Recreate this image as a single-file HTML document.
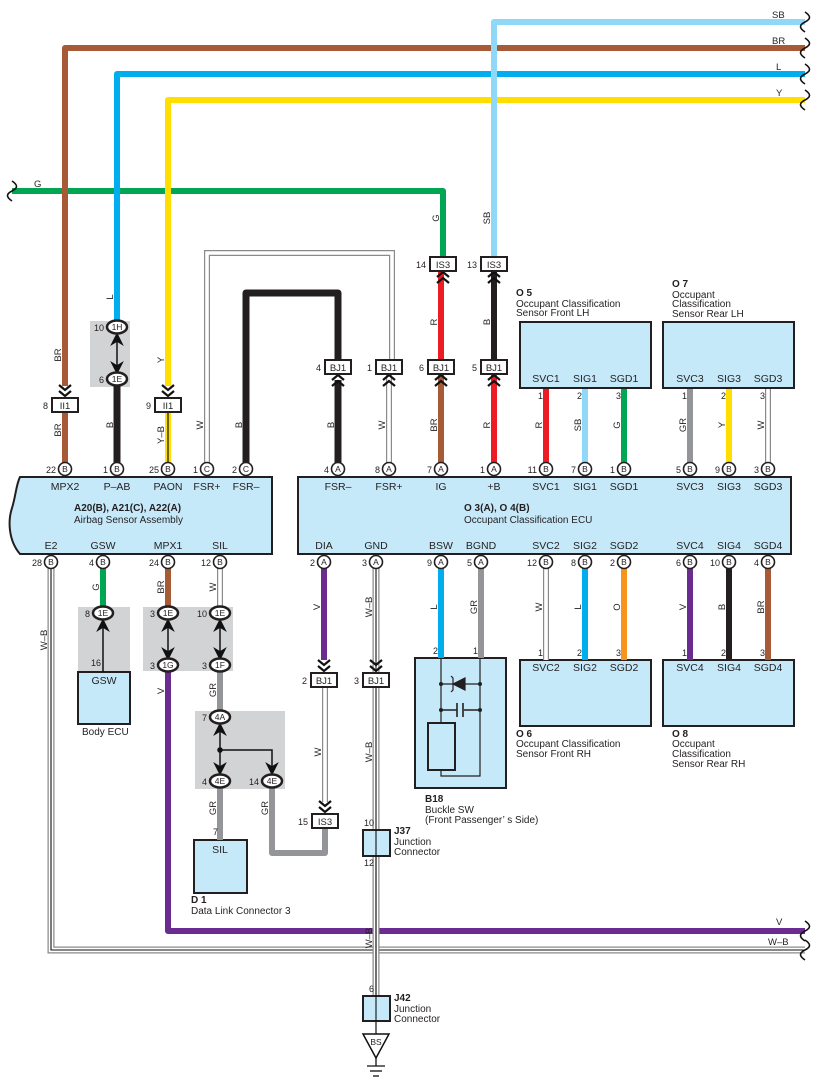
<!DOCTYPE html>
<html><head><meta charset="utf-8"><style>
html,body{margin:0;padding:0;background:#fff}
svg{display:block}
text{font-family:"Liberation Sans",sans-serif;fill:#231f20}
.s{font-size:9.5px}
.p{font-size:8.5px;text-anchor:middle}
.n{font-size:9px;text-anchor:end}
.t{font-size:10.5px;text-anchor:middle}
.b{font-size:10px;font-weight:bold}
</style></head><body>
<svg width="817" height="1088" viewBox="0 0 817 1088" xmlns="http://www.w3.org/2000/svg">
<defs>
<g id="cd"><path d="M-6,-13 L0,-8 L6,-13 M-6,-7 L0,-2 L6,-7" fill="none" stroke="#111" stroke-width="2.2"/></g>
<g id="cu"><path d="M-6,13 L0,8 L6,13 M-6,7 L0,2 L6,7" fill="none" stroke="#111" stroke-width="2.2"/></g>
<g id="wv"><path d="M0,-10 C6,-6 6,-3 0,0 C-6,3 -6,6 0,10" fill="none" stroke="#111" stroke-width="1.6"/></g>
</defs>

<g fill="#d1d3d4">
<rect x="90" y="321" width="40" height="66"/>
<rect x="78" y="607" width="52" height="64"/>
<rect x="143" y="607" width="90" height="64"/>
<rect x="195" y="711" width="90" height="78"/>
</g>

<g fill="none" stroke-linejoin="round" stroke-width="6">
<path d="M12,191 H443 V257" stroke="#00a651"/>
<path d="M805,48 H65 V386" stroke="#a65a36"/>
<path d="M805,74 H117 V321" stroke="#00aeef"/>
<path d="M805,100 H168 V386" stroke="#ffde00"/>
<path d="M805,22 H494 V257" stroke="#8fd8f8"/>
</g>
<use href="#wv" x="805" y="22"/><use href="#wv" x="805" y="48"/><use href="#wv" x="805" y="74"/><use href="#wv" x="805" y="100"/>
<use href="#wv" x="12" y="191"/>
<g class="s"><text x="772" y="18">SB</text><text x="772" y="44">BR</text><text x="776" y="70">L</text><text x="776" y="96">Y</text><text x="34" y="187">G</text></g>

<g fill="none" stroke-width="6">
<line x1="65" y1="413" x2="65" y2="463" stroke="#a65a36"/>
<line x1="117" y1="385" x2="117" y2="463" stroke="#231f20" stroke-width="7"/>
<line x1="168" y1="413" x2="168" y2="463" stroke="#ffde00"/>
<line x1="168" y1="413" x2="168" y2="463" stroke="#111" stroke-width="1.2"/>
<path d="M246,463 V293 H338 V373" stroke="#231f20" stroke-width="7" stroke-linejoin="round"/>
<path d="M207,463 V253 H392 V373" stroke="#8a8a8a" stroke-width="6"/>
<path d="M207,463 V253 H392 V373" stroke="#fff" stroke-width="3.6"/>
<line x1="338" y1="380" x2="338" y2="463" stroke="#231f20" stroke-width="7"/>
<line x1="389" y1="373" x2="389" y2="463" stroke="#8a8a8a"/><line x1="389" y1="373" x2="389" y2="463" stroke="#fff" stroke-width="3.6"/>
<line x1="441" y1="270" x2="441" y2="360" stroke="#ed1c24"/>
<line x1="441" y1="373" x2="441" y2="463" stroke="#a65a36"/>
<line x1="494" y1="270" x2="494" y2="360" stroke="#231f20"/>
<line x1="494" y1="373" x2="494" y2="463" stroke="#ed1c24"/>
<line x1="546" y1="388" x2="546" y2="463" stroke="#ed1c24"/>
<line x1="585" y1="388" x2="585" y2="463" stroke="#8fd8f8"/>
<line x1="624" y1="388" x2="624" y2="463" stroke="#00a651"/>
<line x1="690" y1="388" x2="690" y2="463" stroke="#939598"/>
<line x1="729" y1="388" x2="729" y2="463" stroke="#ffde00"/>
<line x1="768" y1="388" x2="768" y2="463" stroke="#8a8a8a"/><line x1="768" y1="388" x2="768" y2="463" stroke="#fff" stroke-width="3.6"/>
</g>
<g stroke="#111" stroke-width="1.5" fill="#111">
<line x1="117" y1="336" x2="117" y2="371"/>
<path d="M112,344 L117,334 L122,344 L117,341Z"/><path d="M112,363 L117,373 L122,363 L117,366Z"/>
</g>

<g fill="#c6e9fa" stroke="#231f20" stroke-width="2">
<rect x="520" y="322" width="131" height="66"/>
<rect x="663" y="322" width="131" height="66"/>
<path d="M20,477 H272 V554 H20 C8,540 8,520 12,508 C16,495 16,485 20,477Z"/>
<rect x="298" y="477" width="493" height="77"/>
<rect x="415" y="658" width="91" height="130"/>
<rect x="520" y="660" width="131" height="66"/>
<rect x="663" y="660" width="131" height="66"/>
<rect x="78" y="672" width="52" height="52"/>
<rect x="194" y="840" width="53" height="53"/>
</g>
<g class="t">
<text x="546" y="382">SVC1</text><text x="585" y="382">SIG1</text><text x="624" y="382">SGD1</text>
<text x="690" y="382">SVC3</text><text x="729" y="382">SIG3</text><text x="768" y="382">SGD3</text>
<text x="65" y="490">MPX2</text><text x="117" y="490">P–AB</text><text x="168" y="490">PAON</text><text x="207" y="490">FSR+</text><text x="246" y="490">FSR–</text>
<text x="338" y="490">FSR–</text><text x="389" y="490">FSR+</text><text x="441" y="490">IG</text><text x="494" y="490">+B</text>
<text x="546" y="490">SVC1</text><text x="585" y="490">SIG1</text><text x="624" y="490">SGD1</text>
<text x="690" y="490">SVC3</text><text x="729" y="490">SIG3</text><text x="768" y="490">SGD3</text>
<text x="51" y="549">E2</text><text x="103" y="549">GSW</text><text x="168" y="549">MPX1</text><text x="220" y="549">SIL</text>
<text x="324" y="549">DIA</text><text x="376" y="549">GND</text><text x="441" y="549">BSW</text><text x="481" y="549">BGND</text>
<text x="546" y="549">SVC2</text><text x="585" y="549">SIG2</text><text x="624" y="549">SGD2</text>
<text x="690" y="549">SVC4</text><text x="729" y="549">SIG4</text><text x="768" y="549">SGD4</text>
<text x="546" y="671">SVC2</text><text x="585" y="671">SIG2</text><text x="624" y="671">SGD2</text>
<text x="690" y="671">SVC4</text><text x="729" y="671">SIG4</text><text x="768" y="671">SGD4</text>
<text x="104" y="684">GSW</text><text x="220" y="853">SIL</text>
</g>
<text class="b" x="74" y="511">A20(B), A21(C), A22(A)</text>
<text x="74" y="523" style="font-size:10px">Airbag Sensor Assembly</text>
<text class="b" x="464" y="511">O 3(A), O 4(B)</text>
<text x="464" y="523" style="font-size:10px">Occupant Classification ECU</text>
<g style="font-size:10px">
<text class="b" x="516" y="296">O 5</text><text x="516" y="307">Occupant Classification</text><text x="516" y="316">Sensor Front LH</text>
<text class="b" x="672" y="287">O 7</text><text x="672" y="298">Occupant</text><text x="672" y="307">Classification</text><text x="672" y="317">Sensor Rear LH</text>
<text class="b" x="516" y="737">O 6</text><text x="516" y="747">Occupant Classification</text><text x="516" y="757">Sensor Front RH</text>
<text class="b" x="672" y="737">O 8</text><text x="672" y="747">Occupant</text><text x="672" y="757">Classification</text><text x="672" y="767">Sensor Rear RH</text>
<text class="b" x="425" y="802">B18</text><text x="425" y="813">Buckle SW</text><text x="425" y="823">(Front Passenger’ s Side)</text>
<text x="82" y="735">Body ECU</text>
<text class="b" x="191" y="903">D 1</text><text x="191" y="914">Data Link Connector 3</text>
<text class="b" x="394" y="834">J37</text><text x="394" y="845">Junction</text><text x="394" y="855">Connector</text>
<text class="b" x="394" y="1001">J42</text><text x="394" y="1012">Junction</text><text x="394" y="1022">Connector</text>
</g>

<g fill="none" stroke-width="6">
<path d="M51,568 V950 H805" stroke="#8a8a8a" stroke-width="7"/>
<path d="M51,568 V950 H805" stroke="#fff" stroke-width="4.5"/>
<path d="M51,568 V950 H805" stroke="#111" stroke-width="1.1"/>
<line x1="103" y1="568" x2="103" y2="606" stroke="#00a651"/>
<line x1="168" y1="568" x2="168" y2="606" stroke="#a65a36"/>
<path d="M168,672 V931 H805" stroke="#6b2c91" stroke-linejoin="round"/>
<line x1="220" y1="568" x2="220" y2="606" stroke="#8a8a8a"/><line x1="220" y1="568" x2="220" y2="606" stroke="#fff" stroke-width="3.6"/>
<line x1="220" y1="672" x2="220" y2="711" stroke="#939598"/>
<line x1="220" y1="788" x2="220" y2="840" stroke="#939598"/>
<path d="M272,788 V853 H325 V827" stroke="#939598" stroke-linejoin="round"/>
<line x1="324" y1="568" x2="324" y2="660" stroke="#6b2c91"/>
<line x1="325" y1="686" x2="325" y2="802" stroke="#8a8a8a"/><line x1="325" y1="686" x2="325" y2="802" stroke="#fff" stroke-width="3.6"/>
<line x1="376" y1="568" x2="376" y2="996" stroke="#8a8a8a" stroke-width="7"/>
<line x1="376" y1="568" x2="376" y2="996" stroke="#fff" stroke-width="4.5"/>
<line x1="376" y1="568" x2="376" y2="1034" stroke="#111" stroke-width="1.1"/>
<line x1="441" y1="568" x2="441" y2="658" stroke="#00aeef"/>
<line x1="481" y1="568" x2="481" y2="658" stroke="#939598"/>
<line x1="546" y1="568" x2="546" y2="660" stroke="#8a8a8a"/><line x1="546" y1="568" x2="546" y2="660" stroke="#fff" stroke-width="3.6"/>
<line x1="585" y1="568" x2="585" y2="660" stroke="#00aeef"/>
<line x1="624" y1="568" x2="624" y2="660" stroke="#f7941d"/>
<line x1="690" y1="568" x2="690" y2="660" stroke="#6b2c91"/>
<line x1="729" y1="568" x2="729" y2="660" stroke="#231f20"/>
<line x1="768" y1="568" x2="768" y2="660" stroke="#a65a36"/>
</g>
<use href="#wv" x="805" y="931"/><use href="#wv" x="805" y="950"/>
<g class="s"><text x="776" y="925">V</text><text x="768" y="945">W–B</text></g>

<g stroke="#111" stroke-width="1.5" fill="#111">
<line x1="103" y1="622" x2="103" y2="672"/><path d="M98,630 L103,620 L108,630 L103,627Z"/>
<line x1="168" y1="622" x2="168" y2="657"/><path d="M163,630 L168,620 L173,630 L168,627Z"/><path d="M163,649 L168,659 L173,649 L168,652Z"/>
<line x1="220" y1="622" x2="220" y2="657"/><path d="M215,630 L220,620 L225,630 L220,627Z"/><path d="M215,649 L220,659 L225,649 L220,652Z"/>
<line x1="220" y1="726" x2="220" y2="772"/><path d="M215,734 L220,724 L225,734 L220,731Z"/><path d="M215,764 L220,774 L225,764 L220,767Z"/>
<polyline points="220,750 272,750 272,770" fill="none"/><path d="M267,764 L272,774 L277,764 L272,767Z"/>
<circle cx="220" cy="750" r="2"/>
</g>

<g stroke="#231f20" stroke-width="1.2" fill="none">
<path d="M441,658 V723 M455,776 H480 V658 M441,770 V776 H455"/>
<rect x="428" y="723" width="27" height="47" stroke-width="2"/>
<line x1="441" y1="684" x2="480" y2="684"/>
<path d="M441,710 H457 M464,710 H480 M457,703 V717 M463,703 V717" stroke-width="1.6"/>
<path d="M453,684 L465,678 L465,690Z" fill="#231f20"/>
<path d="M451,676 L453,678 V690 L451,692"/>
</g>
<g fill="#231f20"><circle cx="441" cy="684" r="2"/><circle cx="480" cy="684" r="2"/><circle cx="441" cy="710" r="2"/><circle cx="480" cy="710" r="2"/></g>

<g fill="#c6e9fa" stroke="#231f20" stroke-width="2">
<rect x="363" y="830" width="27" height="26"/>
<rect x="363" y="996" width="27" height="25"/>
</g>
<line x1="376" y1="830" x2="376" y2="1034" stroke="#111" stroke-width="1.1"/>
<polygon points="363,1034 389,1034 376,1058" fill="#fff" stroke="#111" stroke-width="1.5"/>
<text x="376" y="1045" class="p">BS</text>
<g stroke="#111" stroke-width="1.3"><line x1="376" y1="1058" x2="376" y2="1066"/><line x1="367" y1="1066" x2="385" y2="1066"/><line x1="370" y1="1071" x2="382" y2="1071"/><line x1="373" y1="1076" x2="379" y2="1076"/></g>

<use href="#cd" x="65" y="398"/><use href="#cd" x="168" y="398"/>
<use href="#cu" x="338" y="373"/><use href="#cu" x="389" y="373"/><use href="#cu" x="441" y="373"/><use href="#cu" x="494" y="373"/>
<use href="#cu" x="443" y="270"/><use href="#cu" x="494" y="270"/>
<use href="#cd" x="324" y="673"/><use href="#cd" x="376" y="673"/><use href="#cd" x="325" y="814"/>

<g fill="#fff" stroke="#231f20" stroke-width="2">
<rect x="52" y="398" width="26" height="14"/><rect x="155" y="398" width="26" height="14"/>
<rect x="325" y="360" width="26" height="14"/><rect x="376" y="360" width="26" height="14"/><rect x="428" y="360" width="26" height="14"/><rect x="481" y="360" width="26" height="14"/>
<rect x="430" y="257" width="26" height="14"/><rect x="481" y="257" width="26" height="14"/>
<rect x="311" y="673" width="26" height="14"/><rect x="363" y="673" width="26" height="14"/><rect x="312" y="814" width="26" height="14"/>
</g>
<g class="p" style="font-size:9.5px">
<text x="65" y="409">II1</text><text x="168" y="409">II1</text>
<text x="338" y="371">BJ1</text><text x="389" y="371">BJ1</text><text x="441" y="371">BJ1</text><text x="494" y="371">BJ1</text>
<text x="443" y="268">IS3</text><text x="494" y="268">IS3</text>
<text x="324" y="684">BJ1</text><text x="376" y="684">BJ1</text><text x="325" y="825">IS3</text>
</g>
<g class="n">
<text x="48" y="409">8</text><text x="151" y="409">9</text>
<text x="321" y="371">4</text><text x="372" y="371">1</text><text x="424" y="371">6</text><text x="477" y="371">5</text>
<text x="426" y="268">14</text><text x="477" y="268">13</text>
<text x="307" y="684">2</text><text x="359" y="684">3</text><text x="308" y="825">15</text>
<text x="374" y="826">10</text><text x="374" y="866">12</text><text x="374" y="992">6</text>
</g>

<g fill="#fff" stroke="#231f20" stroke-width="2.5">
<ellipse cx="117" cy="327" rx="10" ry="6.5"/><ellipse cx="117" cy="379" rx="10" ry="6.5"/>
<ellipse cx="103" cy="613" rx="10" ry="6.5"/>
<ellipse cx="168" cy="613" rx="10" ry="6.5"/><ellipse cx="168" cy="665" rx="10" ry="6.5"/>
<ellipse cx="220" cy="613" rx="10" ry="6.5"/><ellipse cx="220" cy="665" rx="10" ry="6.5"/>
<ellipse cx="220" cy="717" rx="10" ry="6.5"/><ellipse cx="220" cy="781" rx="10" ry="6.5"/><ellipse cx="272" cy="781" rx="10" ry="6.5"/>
</g>
<g class="p">
<text x="117" y="330">1H</text><text x="117" y="382">1E</text><text x="103" y="616">1E</text>
<text x="168" y="616">1E</text><text x="168" y="668">1G</text><text x="220" y="616">1E</text><text x="220" y="668">1F</text>
<text x="220" y="720">4A</text><text x="220" y="784">4E</text><text x="272" y="784">4E</text>
</g>
<g class="n">
<text x="104" y="331">10</text><text x="104" y="383">6</text><text x="90" y="617">8</text><text x="101" y="666">16</text>
<text x="155" y="617">3</text><text x="155" y="669">3</text><text x="207" y="617">10</text><text x="207" y="669">3</text>
<text x="207" y="721">7</text><text x="207" y="785">4</text><text x="259" y="785">14</text><text x="218" y="835">7</text>
<text x="543" y="399">1</text><text x="582" y="399">2</text><text x="621" y="399">3</text>
<text x="687" y="399">1</text><text x="726" y="399">2</text><text x="765" y="399">3</text>
<text x="438" y="654">2</text><text x="478" y="654">1</text>
<text x="543" y="656">1</text><text x="582" y="656">2</text><text x="621" y="656">3</text>
<text x="687" y="656">1</text><text x="726" y="656">2</text><text x="765" y="656">3</text>
</g>

<g fill="#fff" stroke="#231f20" stroke-width="1.6">
<circle cx="65" cy="469" r="6.5"/><circle cx="117" cy="469" r="6.5"/><circle cx="168" cy="469" r="6.5"/><circle cx="207" cy="469" r="6.5"/><circle cx="246" cy="469" r="6.5"/>
<circle cx="338" cy="469" r="6.5"/><circle cx="389" cy="469" r="6.5"/><circle cx="441" cy="469" r="6.5"/><circle cx="494" cy="469" r="6.5"/>
<circle cx="546" cy="469" r="6.5"/><circle cx="585" cy="469" r="6.5"/><circle cx="624" cy="469" r="6.5"/><circle cx="690" cy="469" r="6.5"/><circle cx="729" cy="469" r="6.5"/><circle cx="768" cy="469" r="6.5"/>
<circle cx="51" cy="562" r="6.5"/><circle cx="103" cy="562" r="6.5"/><circle cx="168" cy="562" r="6.5"/><circle cx="220" cy="562" r="6.5"/>
<circle cx="324" cy="562" r="6.5"/><circle cx="376" cy="562" r="6.5"/><circle cx="441" cy="562" r="6.5"/><circle cx="481" cy="562" r="6.5"/>
<circle cx="546" cy="562" r="6.5"/><circle cx="585" cy="562" r="6.5"/><circle cx="624" cy="562" r="6.5"/><circle cx="690" cy="562" r="6.5"/><circle cx="729" cy="562" r="6.5"/><circle cx="768" cy="562" r="6.5"/>
</g>
<g class="p">
<text x="65" y="472">B</text><text x="117" y="472">B</text><text x="168" y="472">B</text><text x="207" y="472">C</text><text x="246" y="472">C</text>
<text x="338" y="472">A</text><text x="389" y="472">A</text><text x="441" y="472">A</text><text x="494" y="472">A</text>
<text x="546" y="472">B</text><text x="585" y="472">B</text><text x="624" y="472">B</text><text x="690" y="472">B</text><text x="729" y="472">B</text><text x="768" y="472">B</text>
<text x="51" y="565">B</text><text x="103" y="565">B</text><text x="168" y="565">B</text><text x="220" y="565">B</text>
<text x="324" y="565">A</text><text x="376" y="565">A</text><text x="441" y="565">A</text><text x="481" y="565">A</text>
<text x="546" y="565">B</text><text x="585" y="565">B</text><text x="624" y="565">B</text><text x="690" y="565">B</text><text x="729" y="565">B</text><text x="768" y="565">B</text>
</g>
<g class="n">
<text x="56" y="473">22</text><text x="108" y="473">1</text><text x="159" y="473">25</text><text x="198" y="473">1</text><text x="237" y="473">2</text>
<text x="329" y="473">4</text><text x="380" y="473">8</text><text x="432" y="473">7</text><text x="485" y="473">1</text>
<text x="537" y="473">11</text><text x="576" y="473">7</text><text x="615" y="473">1</text><text x="681" y="473">5</text><text x="720" y="473">9</text><text x="759" y="473">3</text>
<text x="42" y="566">28</text><text x="94" y="566">4</text><text x="159" y="566">24</text><text x="211" y="566">12</text>
<text x="315" y="566">2</text><text x="367" y="566">3</text><text x="432" y="566">9</text><text x="472" y="566">5</text>
<text x="537" y="566">12</text><text x="576" y="566">8</text><text x="615" y="566">2</text><text x="681" y="566">6</text><text x="720" y="566">10</text><text x="759" y="566">4</text>
</g>

<g class="s" text-anchor="middle">
<text transform="translate(61,355) rotate(-90)">BR</text><text transform="translate(61,430) rotate(-90)">BR</text>
<text transform="translate(113,297) rotate(-90)">L</text><text transform="translate(113,425) rotate(-90)">B</text>
<text transform="translate(164,360) rotate(-90)">Y</text><text transform="translate(164,435) rotate(-90)">Y–B</text>
<text transform="translate(203,425) rotate(-90)">W</text><text transform="translate(242,425) rotate(-90)">B</text>
<text transform="translate(334,425) rotate(-90)">B</text><text transform="translate(385,425) rotate(-90)">W</text>
<text transform="translate(437,425) rotate(-90)">BR</text><text transform="translate(490,425) rotate(-90)">R</text>
<text transform="translate(437,322) rotate(-90)">R</text><text transform="translate(490,322) rotate(-90)">B</text>
<text transform="translate(439,218) rotate(-90)">G</text><text transform="translate(490,218) rotate(-90)">SB</text>
<text transform="translate(542,425) rotate(-90)">R</text><text transform="translate(581,425) rotate(-90)">SB</text><text transform="translate(620,425) rotate(-90)">G</text>
<text transform="translate(686,425) rotate(-90)">GR</text><text transform="translate(725,425) rotate(-90)">Y</text><text transform="translate(764,425) rotate(-90)">W</text>
<text transform="translate(99,587) rotate(-90)">G</text><text transform="translate(164,587) rotate(-90)">BR</text><text transform="translate(216,587) rotate(-90)">W</text>
<text transform="translate(47,640) rotate(-90)">W–B</text><text transform="translate(164,691) rotate(-90)">V</text><text transform="translate(216,690) rotate(-90)">GR</text>
<text transform="translate(216,808) rotate(-90)">GR</text><text transform="translate(268,808) rotate(-90)">GR</text>
<text transform="translate(320,607) rotate(-90)">V</text><text transform="translate(321,752) rotate(-90)">W</text>
<text transform="translate(372,607) rotate(-90)">W–B</text><text transform="translate(372,752) rotate(-90)">W–B</text><text transform="translate(372,938) rotate(-90)">W–B</text>
<text transform="translate(437,607) rotate(-90)">L</text><text transform="translate(477,607) rotate(-90)">GR</text>
<text transform="translate(542,607) rotate(-90)">W</text><text transform="translate(581,607) rotate(-90)">L</text><text transform="translate(620,607) rotate(-90)">O</text>
<text transform="translate(686,607) rotate(-90)">V</text><text transform="translate(725,607) rotate(-90)">B</text><text transform="translate(764,607) rotate(-90)">BR</text>
</g>
</svg>
</body></html>
